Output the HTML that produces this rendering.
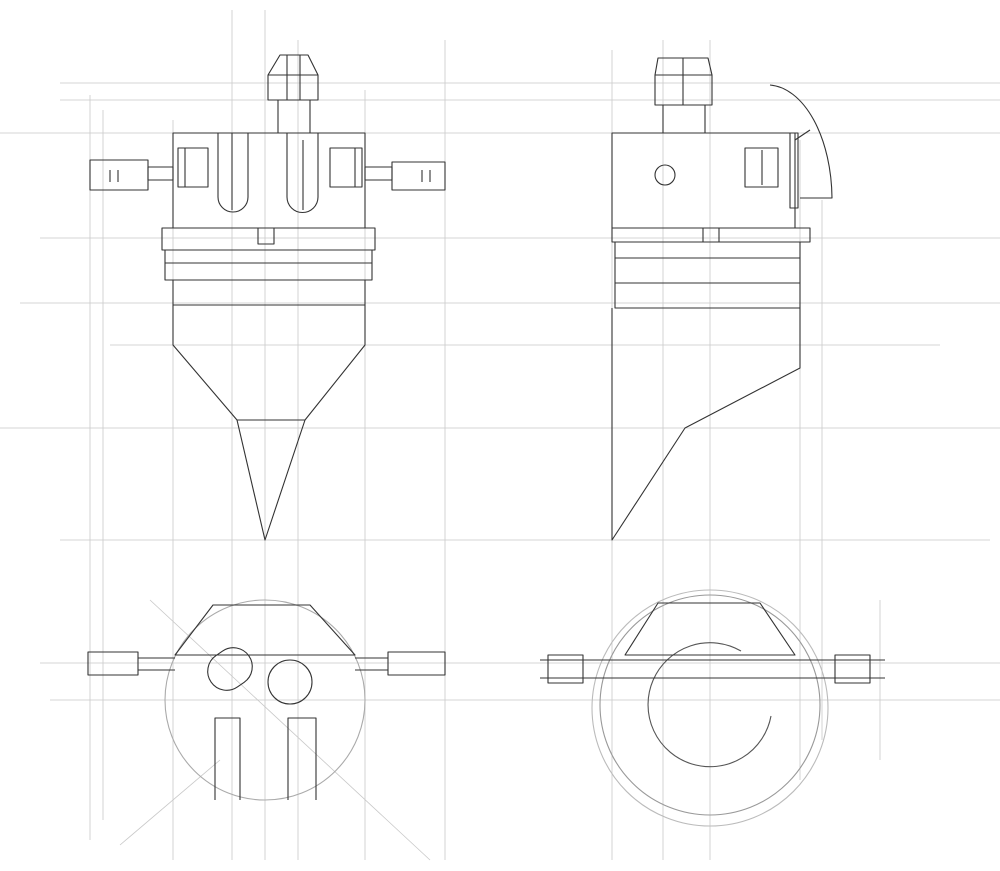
<!DOCTYPE html>
<html><head><meta charset="utf-8"><style>
html,body{margin:0;padding:0;background:#fff;}
svg{display:block;}
</style></head><body>
<svg width="1000" height="871" viewBox="0 0 1000 871" xmlns="http://www.w3.org/2000/svg">
<g stroke="#c8c8c8" stroke-width="0.8" fill="none">
<line x1="90" y1="95" x2="90" y2="840"/>
<line x1="103" y1="110" x2="103" y2="820"/>
<line x1="173" y1="120" x2="173" y2="860"/>
<line x1="232" y1="10" x2="232" y2="860"/>
<line x1="265" y1="10" x2="265" y2="860"/>
<line x1="298" y1="40" x2="298" y2="860"/>
<line x1="365" y1="90" x2="365" y2="860"/>
<line x1="445" y1="40" x2="445" y2="860"/>
<line x1="612" y1="50" x2="612" y2="860"/>
<line x1="663" y1="40" x2="663" y2="860"/>
<line x1="710" y1="40" x2="710" y2="860"/>
<line x1="800" y1="140" x2="800" y2="780"/>
<line x1="822" y1="200" x2="822" y2="740"/>
<line x1="880" y1="600" x2="880" y2="760"/>
<line x1="0" y1="133" x2="1000" y2="133"/>
<line x1="60" y1="83" x2="1000" y2="83"/>
<line x1="60" y1="100" x2="1000" y2="100"/>
<line x1="40" y1="238" x2="1000" y2="238"/>
<line x1="20" y1="303" x2="1000" y2="303"/>
<line x1="110" y1="345" x2="940" y2="345"/>
<line x1="0" y1="428" x2="1000" y2="428"/>
<line x1="60" y1="540" x2="990" y2="540"/>
<line x1="40" y1="663" x2="1000" y2="663"/>
<line x1="50" y1="700" x2="1000" y2="700"/>
<line x1="120" y1="845" x2="220" y2="760"/>
<line x1="150" y1="600" x2="430" y2="860"/>
</g>
<g stroke="#333" stroke-width="1.1" fill="none" stroke-linejoin="round">
<path d="M280,55 L308,55 L318,75 L318,100 L268,100 L268,75 Z"/>
<line x1="268" y1="75" x2="318" y2="75"/>
<line x1="287" y1="55" x2="287" y2="100"/><line x1="300" y1="55" x2="300" y2="100"/>
<rect x="278" y="100" width="32" height="33"/>
<rect x="173" y="133" width="192" height="95"/>
<rect x="178" y="148" width="30" height="39"/><line x1="185" y1="148" x2="185" y2="187"/>
<rect x="330" y="148" width="32" height="39"/><line x1="355" y1="148" x2="355" y2="187"/>
<rect x="148" y="167" width="25" height="13"/><rect x="90" y="160" width="58" height="30"/>
<line x1="110" y1="170" x2="110" y2="182"/><line x1="118" y1="170" x2="118" y2="182"/>
<rect x="365" y="167" width="27" height="13"/><rect x="392" y="162" width="53" height="28"/>
<line x1="422" y1="170" x2="422" y2="182"/><line x1="430" y1="170" x2="430" y2="182"/>
<path d="M218,133 L218,197 A15,15 0 0 0 248,197 L248,133"/>
<path d="M287,133 L287,197 A15,15 0 0 0 318,197 L318,133"/>
<line x1="232" y1="133" x2="232" y2="210"/><line x1="303" y1="140" x2="303" y2="210"/>
<rect x="162" y="228" width="213" height="22"/>
<rect x="258" y="228" width="16" height="16"/>
<rect x="165" y="250" width="207" height="30"/>
<line x1="165" y1="263" x2="372" y2="263"/>
<line x1="173" y1="280" x2="173" y2="305"/><line x1="365" y1="280" x2="365" y2="305"/>
<path d="M173,305 L365,305 L365,345 L305,420 L265,540 L237,420 L173,345 Z"/>
<line x1="237" y1="420" x2="305" y2="420"/>
<circle cx="265" cy="700" r="100" stroke="#aaa"/>
<path d="M213,605 L310,605 L355,655 L175,655 Z"/>
<rect x="207" y="650" width="46" height="38" rx="19" transform="rotate(-35 230 669)"/>
<circle cx="290" cy="682" r="22"/>
<rect x="88" y="652" width="50" height="23"/><line x1="138" y1="658" x2="175" y2="658"/><line x1="138" y1="670" x2="175" y2="670"/>
<rect x="388" y="652" width="57" height="23"/><line x1="355" y1="658" x2="388" y2="658"/><line x1="355" y1="670" x2="388" y2="670"/>
<path d="M215,800 L215,718 L240,718 L240,800"/>
<path d="M288,800 L288,718 L316,718 L316,800"/>
<path d="M658,58 L708,58 L712,75 L712,105 L655,105 L655,75 Z"/>
<line x1="655" y1="75" x2="712" y2="75"/>
<line x1="683" y1="58" x2="683" y2="105"/>
<rect x="663" y="105" width="42" height="28"/>
<rect x="612" y="133" width="183" height="95"/>
<circle cx="665" cy="175" r="10"/>
<rect x="745" y="148" width="33" height="39"/><line x1="762" y1="150" x2="762" y2="185"/>
<path d="M770,85 A65,115 0 0 1 832,198 L800,198"/>
<line x1="795" y1="140" x2="810" y2="130"/><rect x="790" y="133" width="8" height="75"/>
<rect x="612" y="228" width="198" height="14"/>
<rect x="703" y="228" width="16" height="14"/>
<rect x="615" y="242" width="185" height="66"/>
<line x1="615" y1="258" x2="800" y2="258"/><line x1="615" y1="283" x2="800" y2="283"/>
<path d="M612,308 L612,540 L685,428 L800,368 L800,308"/>
<circle cx="710" cy="705" r="110" stroke="#999"/>
<circle cx="710" cy="708" r="118" stroke="#bbb"/>
<path d="M741,651 A62,62 0 1 0 771,716" stroke="#555"/>
<path d="M658,603 L760,603 L795,655 L625,655 Z"/>
<line x1="540" y1="660" x2="885" y2="660"/><line x1="540" y1="678" x2="885" y2="678"/>
<rect x="548" y="655" width="35" height="28"/><rect x="835" y="655" width="35" height="28"/>
</g>
</svg>
</body></html>
